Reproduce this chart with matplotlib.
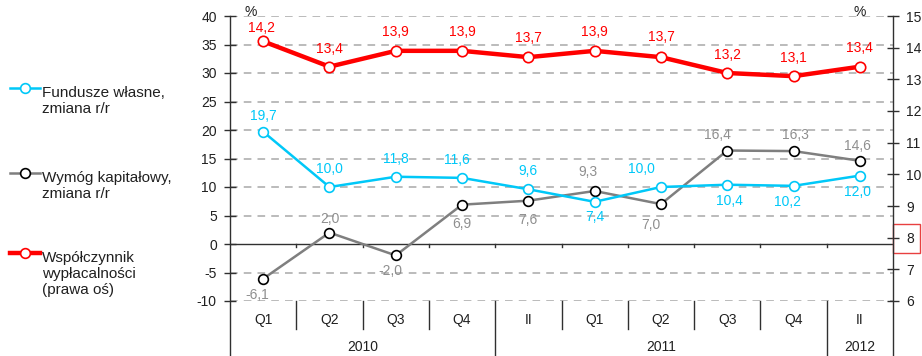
import matplotlib
matplotlib.use("Agg")
import matplotlib.pyplot as plt
from matplotlib.patches import Rectangle
from matplotlib.lines import Line2D

plt.rcParams['font.family'] = ['Liberation Sans', 'DejaVu Sans']
plt.rcParams['axes.unicode_minus'] = False

# ---- data ----
periods = ["Q1", "Q2", "Q3", "Q4", "II", "Q1", "Q2", "Q3", "Q4", "II"]
years = ["2010", "2011", "2012"]
year_spans = [(0, 4), (4, 9), (9, 10)]   # category index ranges per year label
own_funds = [19.7, 10.0, 11.8, 11.6, 9.6, 7.4, 10.0, 10.4, 10.2, 12.0]
capital_req = [-6.1, 2.0, -2.0, 6.9, 7.6, 9.3, 7.0, 16.4, 16.3, 14.6]
solvency_ratio = [14.2, 13.4, 13.9, 13.9, 13.7, 13.9, 13.7, 13.2, 13.1, 13.4]
left_ticks = [-10, -5, 0, 5, 10, 15, 20, 25, 30, 35, 40]
right_ticks = [6, 7, 8, 9, 10, 11, 12, 13, 14, 15]

# ---- style ----
W, H = 922, 356
CYAN = "#00c8f8"
GREY = "#7f7f7f"
GREY_TXT = "#8f8f8f"
RED = "#ff0000"
AXC = "#303030"
FS = 10

# label offsets in pixels (dx, dy), dy positive = upward
cyan_off = [(0, 16), (0, 18), (0, 18), (-5, 18), (0, 18), (0, -15), (-20, 18), (2, -16), (-6, -16), (-2, -16)]
grey_off = [(-6, -16), (0, 14), (-5, -16), (0, -19), (0, -19), (-7, 19), (-10, -21), (-10, 16), (2, 16), (-2, 15)]
red_off = [(-2, 13), (0, 18), (0, 19), (0, 19), (0, 19), (0, 19), (0, 20), (0, 18), (0, 18), (0, 19)]


def px(x, y):
    return x / W, 1 - y / H


fig = plt.figure(figsize=(W / 100, H / 100), dpi=100)
L, R, T, B = 230, 893, 16, 301
ax = fig.add_axes([L / W, 1 - B / H, (R - L) / W, (B - T) / H])
ax.set_xlim(0, len(periods))
ax.set_ylim(-10, 40)
ax2 = ax.twinx()
ax2.set_ylim(6, 15)

for a in (ax, ax2):
    for s in a.spines.values():
        s.set_visible(False)
    a.set_xticks([])

# gridlines
for v in left_ticks:
    if v == 0:
        continue
    ax.axhline(v, color="#a8a8a8", lw=1.1, ls=(0, (5, 4)), zorder=1)
ax.axhline(0, color=AXC, lw=1.0, zorder=2)

# left / right ticks
ax.set_yticks(left_ticks)
ax.tick_params(axis="y", direction="inout", length=9, width=1, color=AXC,
               labelsize=FS, pad=5, labelcolor="#202020")
ax2.set_yticks(right_ticks)
ax2.tick_params(axis="y", direction="inout", length=9, width=1, color=AXC,
                labelsize=FS, pad=5, labelcolor="#202020")

# spines drawn down to the bottom of the figure
fig.add_artist(Line2D([L / W, L / W], [0, 1 - T / H], color=AXC, lw=1.0))
fig.add_artist(Line2D([R / W, R / W], [0, 1 - T / H], color=AXC, lw=1.0))

# small ticks on the zero line and separators below the plot
n = len(periods)
for i in range(1, n):
    ax.plot([i, i], [0, -0.55], color=AXC, lw=1, clip_on=False, zorder=2)
year_bounds = {s for s, e in year_spans if s > 0}
for i in range(1, n):
    if i in year_bounds:
        ax.plot([i, i], [-10, -20], color=AXC, lw=1, clip_on=False)
    else:
        ax.plot([i, i], [-10, -14.9], color=AXC, lw=1, clip_on=False)

for i, p in enumerate(periods):
    ax.text(i + 0.5, -13.4, p, ha="center", va="center", fontsize=FS, color="#202020")
for yl, (s, e) in zip(years, year_spans):
    ax.text((s + e) / 2, -18.1, yl, ha="center", va="center", fontsize=FS, color="#202020")

xs = [i + 0.5 for i in range(n)]


def fmt(v):
    return f"{v:.1f}".replace(".", ",")


def label(a, vals, offs, color):
    for x, v, (dx, dy) in zip(xs, vals, offs):
        a.annotate(fmt(v), (x, v), xytext=(dx * 0.72, dy * 0.72), textcoords="offset points",
                   ha="center", va="center", fontsize=FS, color=color, zorder=6)


ax.plot(xs, capital_req, color=GREY, lw=1.8, marker="o", ms=7, mfc="white",
        mec="black", mew=1.2, zorder=4)
ax.plot(xs, own_funds, color=CYAN, lw=1.8, marker="o", ms=7, mfc="white",
        mec=CYAN, mew=1.2, zorder=5)
label(ax, own_funds, cyan_off, CYAN)
label(ax, capital_req, grey_off, GREY_TXT)

ax2.plot(xs, solvency_ratio, color=RED, lw=3.2, marker="o", ms=7.5, mfc="white",
         mec=RED, mew=1.2, zorder=5)
label(ax2, solvency_ratio, red_off, RED)

# percent signs above axes
fig.text(*px(251, 12), "%", ha="center", va="center", fontsize=FS, color="#202020")
fig.text(*px(860, 12), "%", ha="center", va="center", fontsize=FS, color="#202020")

# box around the right-axis label 8
fig.add_artist(Rectangle(px(893, 253), 27 / W, 29 / H, fill=False, ec="#e84040", lw=1.0))

# legend
legend_items = [
    (88, CYAN, CYAN, 1.8, "Fundusze własne,\nzmiana r/r"),
    (173, GREY, "black", 1.8, "Wymóg kapitałowy,\nzmiana r/r"),
    (253, RED, RED, 3.2, "Współczynnik\nwypłacalności\n(prawa oś)"),
]
for y, lc, mc, lw, txt in legend_items:
    x0, y0 = px(10, y)
    x1, _ = px(40, y)
    xm, _ = px(25, y)
    fig.add_artist(Line2D([x0, x1], [y0, y0], color=lc, lw=lw))
    fig.add_artist(Line2D([xm], [y0], marker="o", ms=7, mfc="white", mec=mc, mew=1.2))
    fig.text(*px(42, y - 2), txt, ha="left", va="top", fontsize=11,
             color="#202020", linespacing=1.2)

fig.savefig("out.png", dpi=100)
